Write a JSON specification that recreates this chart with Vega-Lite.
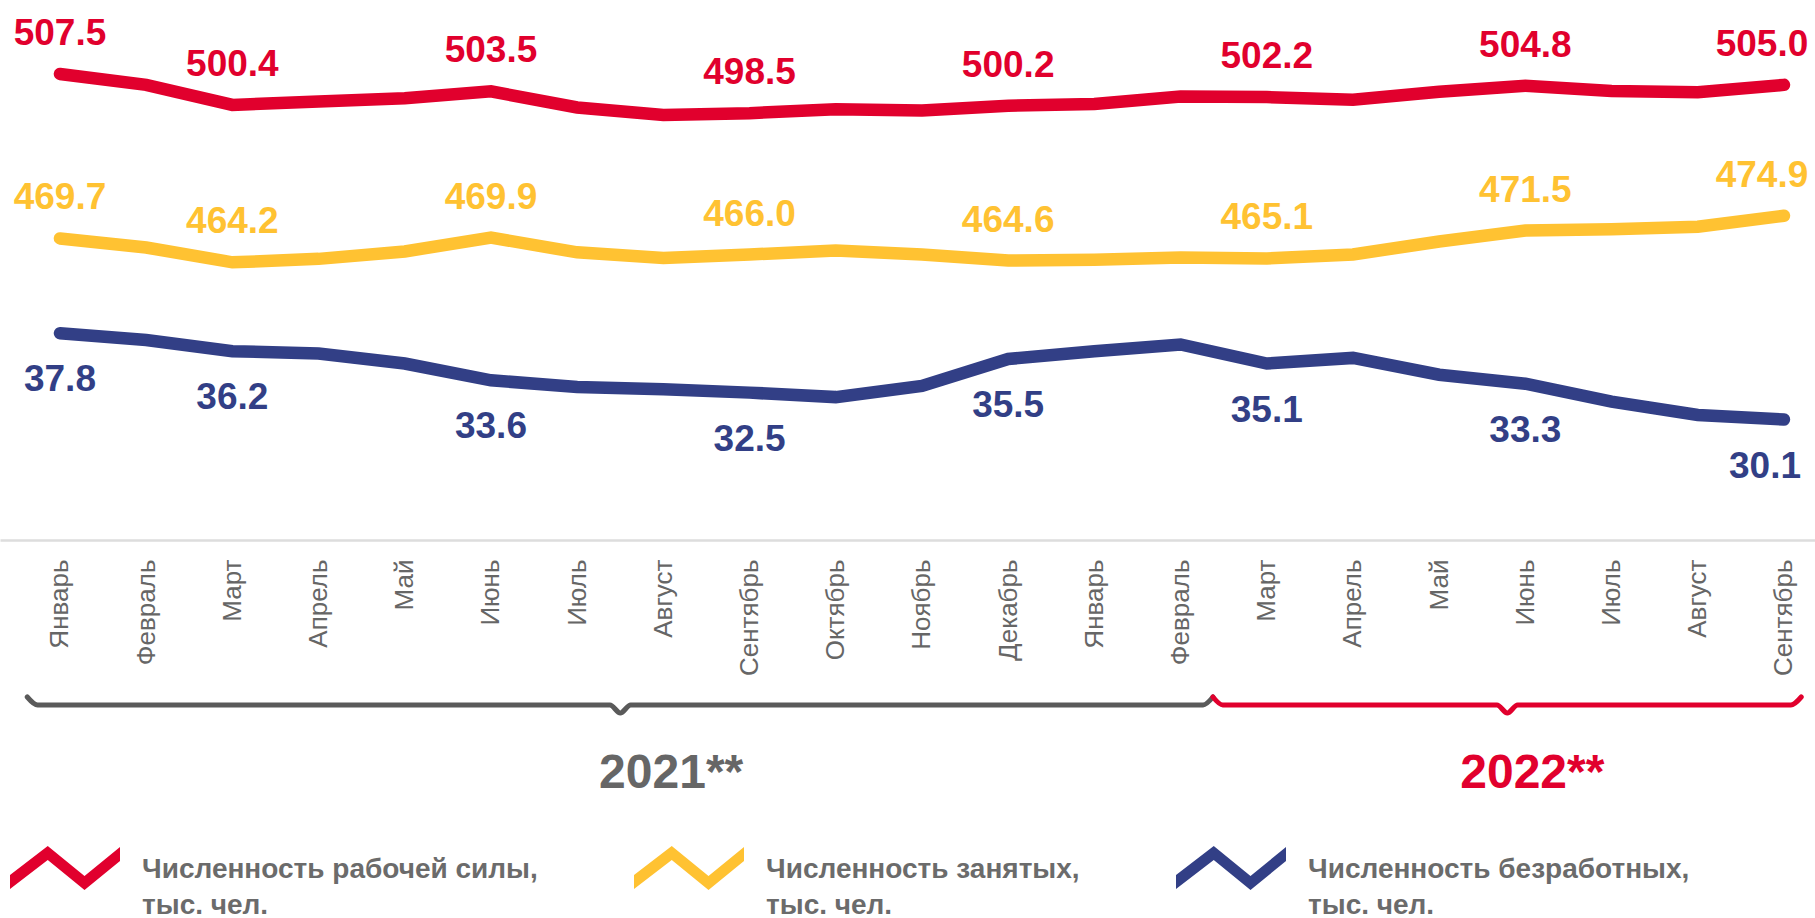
{
  "$schema": "https://vega.github.io/schema/vega-lite/v6.json",
  "background": "white",
  "padding": 0,
  "spacing": 157,
  "bounds": "flush",
  "config": {"view": {"stroke": null}, "font": "Liberation Sans"},
  "vconcat": [
    {
      "width": 1815,
      "height": 540,
      "data": {"values": [
        {"m": "Январь 2021", "s": "Численность рабочей силы, тыс. чел.", "v": 507.5, "lab": 1},
        {"m": "Февраль 2021", "s": "Численность рабочей силы, тыс. чел.", "v": 505.0, "lab": 0},
        {"m": "Март 2021", "s": "Численность рабочей силы, тыс. чел.", "v": 500.4, "lab": 1},
        {"m": "Апрель 2021", "s": "Численность рабочей силы, тыс. чел.", "v": 501.2, "lab": 0},
        {"m": "Май 2021", "s": "Численность рабочей силы, тыс. чел.", "v": 501.9, "lab": 0},
        {"m": "Июнь 2021", "s": "Численность рабочей силы, тыс. чел.", "v": 503.5, "lab": 1},
        {"m": "Июль 2021", "s": "Численность рабочей силы, тыс. чел.", "v": 499.8, "lab": 0},
        {"m": "Август 2021", "s": "Численность рабочей силы, тыс. чел.", "v": 498.1, "lab": 0},
        {"m": "Сентябрь 2021", "s": "Численность рабочей силы, тыс. чел.", "v": 498.5, "lab": 1},
        {"m": "Октябрь 2021", "s": "Численность рабочей силы, тыс. чел.", "v": 499.4, "lab": 0},
        {"m": "Ноябрь 2021", "s": "Численность рабочей силы, тыс. чел.", "v": 499.1, "lab": 0},
        {"m": "Декабрь 2021", "s": "Численность рабочей силы, тыс. чел.", "v": 500.2, "lab": 1},
        {"m": "Январь 2022", "s": "Численность рабочей силы, тыс. чел.", "v": 500.6, "lab": 0},
        {"m": "Февраль 2022", "s": "Численность рабочей силы, тыс. чел.", "v": 502.3, "lab": 0},
        {"m": "Март 2022", "s": "Численность рабочей силы, тыс. чел.", "v": 502.2, "lab": 1},
        {"m": "Апрель 2022", "s": "Численность рабочей силы, тыс. чел.", "v": 501.6, "lab": 0},
        {"m": "Май 2022", "s": "Численность рабочей силы, тыс. чел.", "v": 503.4, "lab": 0},
        {"m": "Июнь 2022", "s": "Численность рабочей силы, тыс. чел.", "v": 504.8, "lab": 1},
        {"m": "Июль 2022", "s": "Численность рабочей силы, тыс. чел.", "v": 503.6, "lab": 0},
        {"m": "Август 2022", "s": "Численность рабочей силы, тыс. чел.", "v": 503.3, "lab": 0},
        {"m": "Сентябрь 2022", "s": "Численность рабочей силы, тыс. чел.", "v": 505.0, "lab": 1},
        {"m": "Январь 2021", "s": "Численность занятых, тыс. чел.", "v": 469.7, "lab": 1},
        {"m": "Февраль 2021", "s": "Численность занятых, тыс. чел.", "v": 467.6, "lab": 0},
        {"m": "Март 2021", "s": "Численность занятых, тыс. чел.", "v": 464.2, "lab": 1},
        {"m": "Апрель 2021", "s": "Численность занятых, тыс. чел.", "v": 465.0, "lab": 0},
        {"m": "Май 2021", "s": "Численность занятых, тыс. чел.", "v": 466.7, "lab": 0},
        {"m": "Июнь 2021", "s": "Численность занятых, тыс. чел.", "v": 469.9, "lab": 1},
        {"m": "Июль 2021", "s": "Численность занятых, тыс. чел.", "v": 466.5, "lab": 0},
        {"m": "Август 2021", "s": "Численность занятых, тыс. чел.", "v": 465.2, "lab": 0},
        {"m": "Сентябрь 2021", "s": "Численность занятых, тыс. чел.", "v": 466.0, "lab": 1},
        {"m": "Октябрь 2021", "s": "Численность занятых, тыс. чел.", "v": 466.9, "lab": 0},
        {"m": "Ноябрь 2021", "s": "Численность занятых, тыс. чел.", "v": 466.0, "lab": 0},
        {"m": "Декабрь 2021", "s": "Численность занятых, тыс. чел.", "v": 464.6, "lab": 1},
        {"m": "Январь 2022", "s": "Численность занятых, тыс. чел.", "v": 464.8, "lab": 0},
        {"m": "Февраль 2022", "s": "Численность занятых, тыс. чел.", "v": 465.3, "lab": 0},
        {"m": "Март 2022", "s": "Численность занятых, тыс. чел.", "v": 465.1, "lab": 1},
        {"m": "Апрель 2022", "s": "Численность занятых, тыс. чел.", "v": 466.0, "lab": 0},
        {"m": "Май 2022", "s": "Численность занятых, тыс. чел.", "v": 469.0, "lab": 0},
        {"m": "Июнь 2022", "s": "Численность занятых, тыс. чел.", "v": 471.5, "lab": 1},
        {"m": "Июль 2022", "s": "Численность занятых, тыс. чел.", "v": 471.8, "lab": 0},
        {"m": "Август 2022", "s": "Численность занятых, тыс. чел.", "v": 472.4, "lab": 0},
        {"m": "Сентябрь 2022", "s": "Численность занятых, тыс. чел.", "v": 474.9, "lab": 1},
        {"m": "Январь 2021", "s": "Численность безработных, тыс. чел.", "v": 37.8, "lab": 1},
        {"m": "Февраль 2021", "s": "Численность безработных, тыс. чел.", "v": 37.2, "lab": 0},
        {"m": "Март 2021", "s": "Численность безработных, тыс. чел.", "v": 36.2, "lab": 1},
        {"m": "Апрель 2021", "s": "Численность безработных, тыс. чел.", "v": 36.0, "lab": 0},
        {"m": "Май 2021", "s": "Численность безработных, тыс. чел.", "v": 35.1, "lab": 0},
        {"m": "Июнь 2021", "s": "Численность безработных, тыс. чел.", "v": 33.6, "lab": 1},
        {"m": "Июль 2021", "s": "Численность безработных, тыс. чел.", "v": 33.0, "lab": 0},
        {"m": "Август 2021", "s": "Численность безработных, тыс. чел.", "v": 32.8, "lab": 0},
        {"m": "Сентябрь 2021", "s": "Численность безработных, тыс. чел.", "v": 32.5, "lab": 1},
        {"m": "Октябрь 2021", "s": "Численность безработных, тыс. чел.", "v": 32.1, "lab": 0},
        {"m": "Ноябрь 2021", "s": "Численность безработных, тыс. чел.", "v": 33.1, "lab": 0},
        {"m": "Декабрь 2021", "s": "Численность безработных, тыс. чел.", "v": 35.5, "lab": 1},
        {"m": "Январь 2022", "s": "Численность безработных, тыс. чел.", "v": 36.2, "lab": 0},
        {"m": "Февраль 2022", "s": "Численность безработных, тыс. чел.", "v": 36.8, "lab": 0},
        {"m": "Март 2022", "s": "Численность безработных, тыс. чел.", "v": 35.1, "lab": 1},
        {"m": "Апрель 2022", "s": "Численность безработных, тыс. чел.", "v": 35.6, "lab": 0},
        {"m": "Май 2022", "s": "Численность безработных, тыс. чел.", "v": 34.1, "lab": 0},
        {"m": "Июнь 2022", "s": "Численность безработных, тыс. чел.", "v": 33.3, "lab": 1},
        {"m": "Июль 2022", "s": "Численность безработных, тыс. чел.", "v": 31.7, "lab": 0},
        {"m": "Август 2022", "s": "Численность безработных, тыс. чел.", "v": 30.5, "lab": 0},
        {"m": "Сентябрь 2022", "s": "Численность безработных, тыс. чел.", "v": 30.1, "lab": 1}
      ]},
      "encoding": {
        "x": {
          "field": "m", "type": "ordinal", "sort": null,
          "scale": {"type": "point", "padding": 0.5278, "align": 0.659},
          "axis": {
            "title": null, "labelAngle": -90, "labelFontSize": 26, "labelColor": "#666666",
            "labelFont": "Liberation Sans", "ticks": false, "grid": false,
            "domainColor": "#dddddd", "domainWidth": 2.5, "labelPadding": 19,
            "labelExpr": "split(datum.label, ' ')[0]"
          }
        },
        "color": {
          "field": "s", "type": "nominal",
          "scale": {
            "domain": ["Численность рабочей силы, тыс. чел.", "Численность занятых, тыс. чел.", "Численность безработных, тыс. чел."],
            "range": ["#E1002D", "#FFC232", "#323F86"]
          },
          "legend": {
            "orient": "none", "legendX": 40, "legendY": 831, "direction": "horizontal", "columns": 3,
            "title": null,
            "symbolType": "M-2.2,0.76L-0.69,-0.4L0.78,0.8L2.2,-0.36L2.2,0.2L0.78,1.36L-0.69,0.16L-2.2,1.32Z",
            "symbolSize": 2500, "symbolStrokeWidth": 0,
            "labelFont": "Liberation Sans", "labelFontSize": 28, "labelFontWeight": "bold",
            "labelColor": "#6b6b6b", "labelLimit": 700, "labelOffset": 52, "columnPadding": 95,
            "labelBaseline": "top",
            "labelExpr": "[split(datum.label, ', ')[0] + ',', split(datum.label, ', ')[1]]",
            "encode": {"labels": {"update": {"lineHeight": {"value": 36}}}}
          }
        }
      },
      "layer": [
        {
          "transform": [{"filter": "datum.s != 'Численность безработных, тыс. чел.'"}],
          "encoding": {
            "y": {"field": "v", "type": "quantitative", "scale": {"domain": [400.37, 524.51], "zero": false, "nice": false}, "axis": null}
          },
          "layer": [
            {"mark": {"type": "line", "strokeWidth": 12.5, "strokeCap": "round"}},
            {
              "transform": [{"filter": "datum.lab == 1 && datum.m != 'Сентябрь 2022'"}],
              "mark": {"type": "text", "fontSize": 37, "fontWeight": "bold", "baseline": "alphabetic", "dy": -29},
              "encoding": {"text": {"field": "v", "type": "quantitative", "format": ".1f"}}
            },
            {
              "transform": [{"filter": "datum.m == 'Сентябрь 2022'"}],
              "mark": {"type": "text", "fontSize": 37, "fontWeight": "bold", "baseline": "alphabetic", "dy": -29, "dx": -22},
              "encoding": {"text": {"field": "v", "type": "quantitative", "format": ".1f"}}
            }
          ]
        },
        {
          "transform": [{"filter": "datum.s == 'Численность безработных, тыс. чел.'"}],
          "encoding": {
            "y": {"field": "v", "type": "quantitative", "scale": {"domain": [19.34, 67.56], "zero": false, "nice": false}, "axis": null}
          },
          "layer": [
            {"mark": {"type": "line", "strokeWidth": 12.5, "strokeCap": "round"}},
            {
              "transform": [{"filter": "datum.lab == 1 && datum.m != 'Сентябрь 2022'"}],
              "mark": {"type": "text", "fontSize": 37, "fontWeight": "bold", "baseline": "alphabetic", "dy": 58},
              "encoding": {"text": {"field": "v", "type": "quantitative", "format": ".1f"}}
            },
            {
              "transform": [{"filter": "datum.m == 'Сентябрь 2022'"}],
              "mark": {"type": "text", "fontSize": 37, "fontWeight": "bold", "baseline": "alphabetic", "dy": 58, "dx": -19},
              "encoding": {"text": {"field": "v", "type": "quantitative", "format": ".1f"}}
            }
          ]
        }
      ],
      "resolve": {"scale": {"y": "independent"}}
    },
    {
      "width": 1815,
      "height": 16,
      "layer": [
        {
          "data": {"values": [
            {"year": "2021**", "i": -0.38, "k": "end"},
            {"year": "2021**", "i": -0.26, "k": "body"},
            {"year": "2021**", "i": 6.38, "k": "body"},
            {"year": "2021**", "i": 6.5, "k": "tip"},
            {"year": "2021**", "i": 6.62, "k": "body"},
            {"year": "2021**", "i": 13.26, "k": "body"},
            {"year": "2021**", "i": 13.375, "k": "end"},
            {"year": "2022**", "i": 13.375, "k": "end"},
            {"year": "2022**", "i": 13.49, "k": "body"},
            {"year": "2022**", "i": 16.67, "k": "body"},
            {"year": "2022**", "i": 16.79, "k": "tip"},
            {"year": "2022**", "i": 16.91, "k": "body"},
            {"year": "2022**", "i": 20.08, "k": "body"},
            {"year": "2022**", "i": 20.2, "k": "end"}
          ]},
          "mark": {"type": "line", "interpolate": "monotone", "strokeWidth": 5, "strokeCap": "round"},
          "encoding": {
            "x": {"field": "i", "type": "quantitative", "scale": {"domain": [-0.6961, 20.3596], "nice": false, "zero": false}, "axis": null},
            "y": {"field": "k", "type": "ordinal", "scale": {"type": "point", "domain": ["end", "body", "tip"], "padding": 0}, "axis": null},
            "order": {"field": "i", "type": "quantitative"},
            "stroke": {"field": "year", "type": "nominal", "scale": {"domain": ["2021**", "2022**"], "range": ["#5a5a5a", "#E1002D"]}, "legend": null},
            "detail": {"field": "year"}
          }
        },
        {
          "data": {"values": [
            {"year": "2021**", "i": 7.09, "k": "tip"},
            {"year": "2022**", "i": 17.08, "k": "tip"}
          ]},
          "mark": {"type": "text", "fontSize": 48, "fontWeight": "bold", "baseline": "alphabetic", "align": "center", "dy": 75},
          "encoding": {
            "x": {"field": "i", "type": "quantitative"},
            "y": {"field": "k", "type": "ordinal"},
            "text": {"field": "year"},
            "fill": {"field": "year", "type": "nominal", "scale": {"domain": ["2021**", "2022**"], "range": ["#666666", "#E1002D"]}, "legend": null}
          }
        }
      ]
    }
  ]
}
